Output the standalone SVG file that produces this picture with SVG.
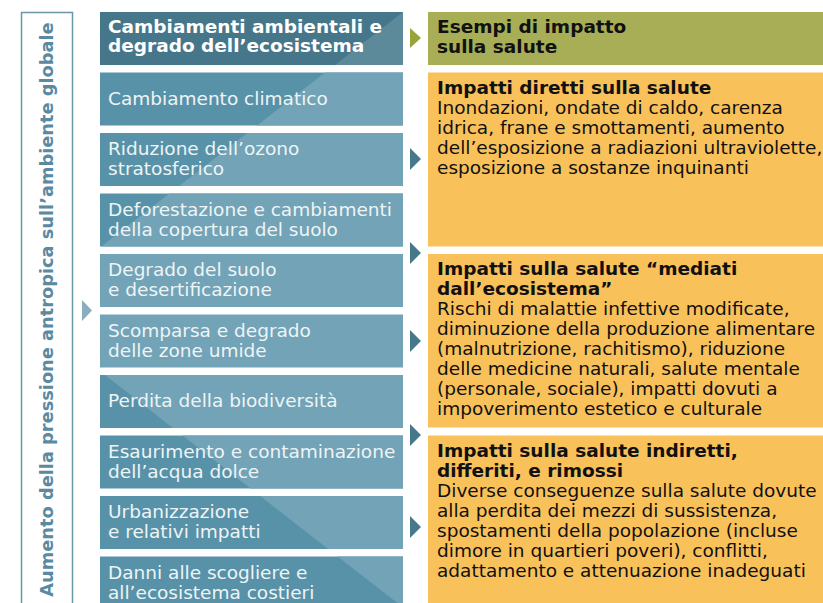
<svg xmlns="http://www.w3.org/2000/svg" width="823" height="603" viewBox="0 0 823 603">
<style>
  text { font-family: "DejaVu Sans", Verdana, "Liberation Sans", sans-serif; }
  .lt { font-size: 18.5px; fill: #eef4f6; }
  .lh { font-size: 18.5px; font-weight: bold; fill: #ffffff; }
  .rh { font-size: 18.5px; font-weight: bold; fill: #111111; }
  .rt { font-size: 18.5px; fill: #111111; }
  .vt { font-size: 17.8px; font-weight: bold; fill: #5a89a2; }
  .dk { fill: #5892a8; }
  .lg { fill: #72a3b6; }
  .or { fill: #f9c15a; }
  .arr { fill: #46788c; }
</style>
<rect width="823" height="603" fill="#ffffff"/>

<g id="pressure-label">
  <rect x="21.5" y="12.5" width="51" height="600" fill="none" stroke="#6b96aa" stroke-width="1.5"/>
  <text class="vt" transform="translate(52.5,309.5) rotate(-90)" text-anchor="middle">Aumento della pressione antropica sull’ambiente globale</text>
</g>

<g id="hdr-left">
  <rect x="100" y="12" width="303" height="53" fill="#46768a"/>
  <polygon points="403,12 335,65 403,65" fill="#5d8a9b"/>
  <text class="lh" x="108" y="32.5">Cambiamenti ambientali e</text>
  <text class="lh" x="108" y="52">degrado dell’ecosistema</text>
</g>

<g id="box-clima">
  <rect class="dk" x="100" y="72.5" width="303" height="53"/>
  <polygon class="lg" points="325.1,72.5 403,72.5 403,125.5 256.9,125.5"/>
  <text class="lt" x="108" y="104.5">Cambiamento climatico</text>
</g>
<g id="box-ozono">
  <rect class="dk" x="100" y="133" width="303" height="53"/>
  <polygon class="lg" points="247.3,133 403,133 403,186 179.1,186"/>
  <text class="lt" x="108" y="155">Riduzione dell’ozono</text>
  <text class="lt" x="108" y="175">stratosferico</text>
</g>
<g id="box-deforestazione">
  <rect class="dk" x="100" y="193.5" width="303" height="53"/>
  <polygon class="lg" points="169.4,193.5 403,193.5 403,246.5 101.2,246.5"/>
  <text class="lt" x="108" y="215.5">Deforestazione e cambiamenti</text>
  <text class="lt" x="108" y="235.5">della copertura del suolo</text>
</g>
<g id="box-suolo">
  <rect class="lg" x="100" y="254" width="303" height="53"/>
  <text class="lt" x="108" y="276">Degrado del suolo</text>
  <text class="lt" x="108" y="296">e desertificazione</text>
</g>
<g id="box-umide">
  <rect class="lg" x="100" y="314.5" width="303" height="53"/>
  <text class="lt" x="108" y="336.5">Scomparsa e degrado</text>
  <text class="lt" x="108" y="356.5">delle zone umide</text>
</g>
<g id="box-biodiversita">
  <rect class="dk" x="100" y="375" width="303" height="53"/>
  <polygon class="lg" points="105,375 403,375 403,428 172.9,428"/>
  <text class="lt" x="108" y="406.5">Perdita della biodiversità</text>
</g>
<g id="box-acqua">
  <rect class="dk" x="100" y="435.5" width="303" height="53"/>
  <polygon class="lg" points="182.5,435.5 403,435.5 403,488.5 250.5,488.5"/>
  <text class="lt" x="108" y="457.5">Esaurimento e contaminazione</text>
  <text class="lt" x="108" y="477.5">dell’acqua dolce</text>
</g>
<g id="box-urbanizzazione">
  <rect class="dk" x="100" y="496" width="303" height="53"/>
  <polygon class="lg" points="260.1,496 403,496 403,549 328.1,549"/>
  <text class="lt" x="108" y="517.5">Urbanizzazione</text>
  <text class="lt" x="108" y="537.5">e relativi impatti</text>
</g>
<g id="box-scogliere">
  <rect class="dk" x="100" y="556.5" width="303" height="55"/>
  <polygon class="lg" points="337.6,556.5 403,556.5 403,607.4"/>
  <text class="lt" x="108" y="578.5">Danni alle scogliere e</text>
  <text class="lt" x="108" y="598.5">all’ecosistema costieri</text>
</g>

<g id="hdr-right">
  <rect x="428" y="12" width="395" height="53" fill="#a8ae55"/>
  <text class="rh" x="437" y="33">Esempi di impatto</text>
  <text class="rh" x="437" y="53">sulla salute</text>
</g>

<g id="impatti-diretti">
  <rect class="or" x="428" y="72.5" width="395" height="174"/>
  <text class="rh" x="437" y="94.3">Impatti diretti sulla salute</text>
  <text class="rt" x="437" y="114.3">Inondazioni, ondate di caldo, carenza</text>
  <text class="rt" x="437" y="134.3">idrica, frane e smottamenti, aumento</text>
  <text class="rt" x="437" y="154.3">dell’esposizione a radiazioni ultraviolette,</text>
  <text class="rt" x="437" y="174.3">esposizione a sostanze inquinanti</text>
</g>

<g id="impatti-mediati">
  <rect class="or" x="428" y="254" width="395" height="173.5"/>
  <text class="rh" x="437" y="275">Impatti sulla salute “mediati</text>
  <text class="rh" x="437" y="294.5">dall’ecosistema”</text>
  <text class="rt" x="437" y="314.5">Rischi di malattie infettive modificate,</text>
  <text class="rt" x="437" y="334.5">diminuzione della produzione alimentare</text>
  <text class="rt" x="437" y="354.5">(malnutrizione, rachitismo), riduzione</text>
  <text class="rt" x="437" y="374.5">delle medicine naturali, salute mentale</text>
  <text class="rt" x="437" y="394.5">(personale, sociale), impatti dovuti a</text>
  <text class="rt" x="437" y="414.5">impoverimento estetico e culturale</text>
</g>

<g id="impatti-indiretti">
  <rect class="or" x="428" y="435.5" width="395" height="175"/>
  <text class="rh" x="437" y="456.7">Impatti sulla salute indiretti,</text>
  <text class="rh" x="437" y="476.7">differiti, e rimossi</text>
  <text class="rt" x="437" y="496.7">Diverse conseguenze sulla salute dovute</text>
  <text class="rt" x="437" y="516.7">alla perdita dei mezzi di sussistenza,</text>
  <text class="rt" x="437" y="536.7">spostamenti della popolazione (incluse</text>
  <text class="rt" x="437" y="556.7">dimore in quartieri poveri), conflitti,</text>
  <text class="rt" x="437" y="576.7">adattamento e attenuazione inadeguati</text>
</g>

<g id="connectors">
  <polygon points="82,300 92,310.5 82,321" fill="#8aaebe"/>
  <polygon points="410,28 421,38 410,48" fill="#9aa33a"/>
  <polygon class="arr" points="410,148 421,159 410,170"/>
  <polygon class="arr" points="410,242 421,253 410,264"/>
  <polygon class="arr" points="410,330 421,341 410,352"/>
  <polygon class="arr" points="410,424 421,435 410,446"/>
  <polygon class="arr" points="410,516 421,527 410,538"/>
</g>
</svg>
